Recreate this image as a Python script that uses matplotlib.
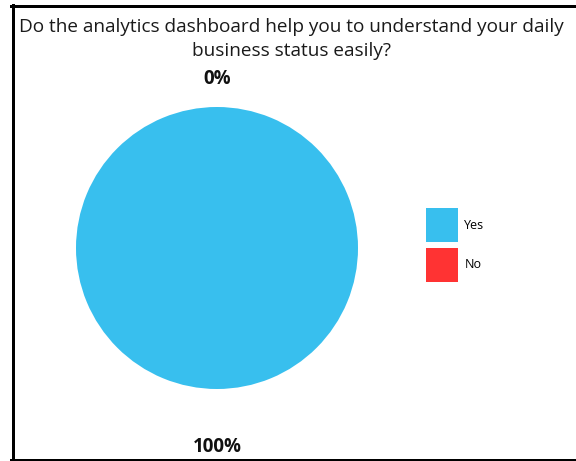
import matplotlib
matplotlib.use("Agg")
import matplotlib.pyplot as plt
from matplotlib.lines import Line2D
import numpy as np

# survey answers
answers = ["Yes", "No"]
shares = [100, 0]
colors = ["#38bfee", "#ff3333"]
title = "Do the analytics dashboard help you to understand your daily\nbusiness status easily?"

fig = plt.figure(figsize=(5.76, 4.61), dpi=100, facecolor="white")
ax = fig.add_axes([76 / 576, 72 / 461, 282 / 576, 282 / 461])

wedges, _ = ax.pie(shares, colors=colors, startangle=90, counterclock=False,
                   wedgeprops=dict(linewidth=0))
ax.set_xlim(-1, 1)
ax.set_ylim(-1, 1)
ax.set_aspect("equal")

# percentage labels outside each slice
total = float(sum(shares))
for w, val in zip(wedges, shares):
    mid = np.deg2rad((w.theta1 + w.theta2) / 2)
    dist = 1.41 if val > 0 else 1.2
    ax.text(dist * np.cos(mid), dist * np.sin(mid), f"{val / total * 100:.0f}%",
            ha="center", va="center", fontsize=13.5, fontweight="bold",
            family="Open Sans", color="#111111", clip_on=False)

fig.text(0.506, 1 - 39 / 461, title, ha="center", va="center", fontsize=13.7,
         family="Open Sans", color="#1a1a1a", linespacing=1.37)

leg = fig.legend(wedges, answers, loc="center left", bbox_to_anchor=(415 / 576, 1 - 245 / 461),
                 frameon=False, handlelength=2.5, handleheight=3.8,
                 handletextpad=0.55, labelspacing=0.45, prop=dict(family="Open Sans", size=9))

# frame on left, top and bottom
lw = 3
fig.add_artist(Line2D([12.5 / 576, 12.5 / 576], [0, 1 - 5 / 461], color="black", lw=lw * 0.72))
fig.add_artist(Line2D([11 / 576, 1], [1 - 6 / 461, 1 - 6 / 461], color="black", lw=lw * 0.72))
fig.add_artist(Line2D([11 / 576, 1], [1 / 461, 1 / 461], color="black", lw=lw * 0.72))

fig.savefig("out.png", dpi=100, facecolor="white")
